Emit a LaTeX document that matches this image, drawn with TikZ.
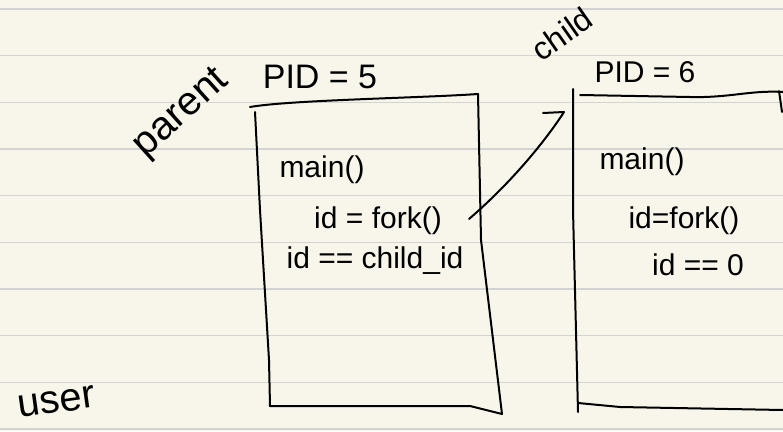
\documentclass[tikz,border=0pt]{standalone}
\usepackage{fontspec}
\setmainfont{Liberation Sans}
\usetikzlibrary{positioning, calc}
\definecolor{paper}{HTML}{F8F6EB}
\definecolor{ruling}{HTML}{D3D3D3}
\tikzset{
  pen/.style={line width=2pt, line cap=round, line join=round},
  code/.style={font=\fontsize{30}{34}\selectfont, inner sep=0pt},
  tag/.style={font=\fontsize{34}{40}\selectfont, inner sep=0pt},
}

\begin{document}
\begin{tikzpicture}[x=1pt,y=-1pt]
  \fill[paper] (0,0) rectangle (783,431);
  \useasboundingbox (0,0) rectangle (783,431);
  % ruled paper
  \foreach \k in {0,...,9}
    \draw[ruling, line width=1.4pt] (0,{9+46.67*\k}) -- (783,{9+46.67*\k});

  % labels over the boxes
  \node[tag, font=\fontsize{40}{46}\selectfont, rotate=42] (parent) at (182,114) {parent};
  \node[tag] (pid5) at (320,77) {PID = 5};
  \node[tag, font=\fontsize{32}{38}\selectfont, rotate=35] (child) at (562,34) {child};
  \node[tag, font=\fontsize{30}{34}\selectfont] (pid6) at (645,72) {PID = 6};
  \node[tag, font=\fontsize{40}{46}\selectfont, rotate=8] (user) at (57,402) {user};

  % parent process
  \draw[pen] (250,107) .. controls (290,100) and (420,98) .. (478,94)
    -- (481,240) -- (502,414) -- (470,406) -- (270,406);
  \draw[pen] (255,112) -- (260,210) -- (269,360) -- (270,406);
  \node[code] (pmain) at (322,170) {main()};
  \node[code] (pfork) at (378,221) {id = fork()};
  \node[code] (pcheck) at (375,261) {id == child\_id};

  % child process
  \draw[pen] (573,89) -- (573,210) -- (578,412);
  \draw[pen] (580,95) -- (690,97) .. controls (730,98) and (750,90) .. (783,92);
  \draw[pen] (779,91) -- (782,112);
  \draw[pen] (578,403) -- (620,407) -- (783,410);
  \node[code] (cmain) at (642,162) {main()};
  \node[code] (cfork) at (684,221) {id=fork()};
  \node[code] (ccheck) at (698,265) {id == 0};

  % fork arrow
  \coordinate (forkout) at (469,219);
  \coordinate (childin) at (564,112);
  \draw[pen] (forkout) .. controls (512,182) and (546,140) .. (childin) -- ++(-21,1);
\end{tikzpicture}
\end{document}
